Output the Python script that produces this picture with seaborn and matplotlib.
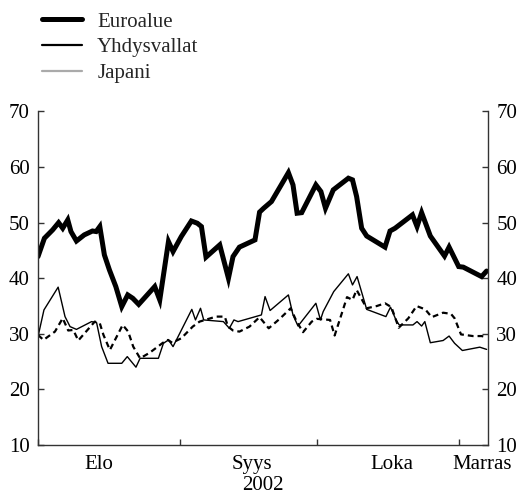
import numpy as np
import pandas as pd
import matplotlib
matplotlib.use("Agg")
import matplotlib.pyplot as plt
import seaborn as sns
from matplotlib.lines import Line2D

# ---- data (days since 1 Aug 2002, index value) ----
euro_day = [0.0, 1.4, 3.2, 4.5, 5.4, 6.5, 7.2, 8.4, 10.1, 11.9, 12.7, 13.5, 14.5, 15.6, 17.0,
            18.3, 19.6, 20.7, 22.0, 25.5, 26.6, 28.5, 29.5, 31.3, 33.5, 34.8, 35.7, 36.7, 39.7,
            41.6, 42.6, 44.0, 47.4, 48.4, 49.3, 51.0, 54.7, 55.7, 56.6, 57.6, 60.7, 61.8, 62.8,
            64.5, 67.8, 68.7, 69.6, 70.7, 71.8, 75.8, 76.9, 78.0, 81.8, 82.8, 83.8, 85.7, 88.8,
            89.8, 91.9, 92.9, 96.9, 98.0]
euro_val = [43.9, 47.2, 48.7, 50.0, 49.0, 50.5, 48.4, 46.7, 47.8, 48.5, 48.4, 49.3, 44.2, 41.5, 38.5,
            34.9, 37.0, 36.4, 35.3, 38.5, 36.1, 46.6, 44.8, 47.5, 50.3, 49.9, 49.3, 43.8, 46.0,
            40.0, 43.9, 45.6, 46.9, 51.9, 52.6, 53.8, 59.0, 56.8, 51.7, 51.8, 56.8, 55.6, 52.6,
            55.9, 58.0, 57.7, 54.7, 49.0, 47.6, 45.6, 48.5, 49.0, 51.4, 49.3, 51.8, 47.6, 44.0,
            45.6, 42.1, 42.0, 40.3, 41.3]

us_day = [0.0, 1.3, 4.4, 5.9, 7.0, 8.4, 11.7, 12.8, 13.9, 15.3, 18.3, 19.5, 21.4, 22.3, 26.3,
          27.4, 28.5, 29.5, 33.6, 34.4, 35.5, 36.2, 40.5, 41.8, 42.8, 43.7, 48.8, 49.6, 50.7,
          54.7, 55.7, 56.8, 60.7, 61.7, 62.3, 64.6, 67.8, 68.7, 69.7, 71.8, 76.0, 77.0, 78.2,
          78.9, 81.9, 82.8, 83.8, 84.5, 85.7, 88.5, 89.8, 91.0, 92.7, 96.5, 98.0]
us_val = [29.5, 34.3, 38.4, 33.1, 31.3, 30.8, 32.2, 32.0, 27.7, 24.7, 24.7, 25.9, 24.0, 25.6, 25.6,
          28.3, 28.9, 27.7, 34.4, 32.5, 34.6, 32.5, 32.2, 31.0, 32.5, 32.2, 33.4, 36.7, 34.2,
          37.0, 33.4, 31.4, 35.5, 32.5, 34.0, 37.6, 40.8, 38.8, 40.3, 34.4, 33.1, 34.8, 32.5,
          31.6, 31.6, 32.2, 31.4, 32.2, 28.4, 28.8, 29.6, 28.3, 27.0, 27.6, 27.2]

jp_day = [0.0, 1.2, 3.7, 5.4, 6.6, 7.7, 8.8, 12.4, 13.5, 14.3, 15.7, 18.5, 19.7, 20.8, 22.3,
          24.4, 27.3, 28.4, 29.3, 31.3, 33.8, 35.3, 38.9, 40.8, 41.5, 42.6, 44.0, 46.2, 48.4,
          50.4, 52.8, 55.2, 56.5, 57.9, 59.8, 60.9, 63.8, 64.8, 65.9, 67.5, 68.7, 69.6, 71.8,
          74.0, 75.8, 77.2, 78.8, 80.9, 82.7, 84.6, 86.0, 88.5, 90.2, 91.0, 92.4, 95.0, 96.9, 98.0]
jp_val = [29.8, 28.9, 30.4, 32.8, 30.6, 30.7, 28.8, 32.2, 31.9, 29.8, 27.1, 31.6, 30.4, 27.7, 25.6,
          26.6, 28.4, 28.9, 28.4, 29.2, 31.3, 32.2, 33.1, 33.1, 31.3, 30.6, 30.4, 31.3, 33.0,
          31.0, 32.7, 34.6, 32.2, 30.3, 32.2, 32.7, 32.5, 29.7, 32.5, 36.6, 36.1, 37.9, 34.6,
          35.0, 35.5, 34.8, 31.1, 32.8, 35.0, 34.4, 33.0, 33.8, 33.6, 32.8, 29.9, 29.6, 29.6, 29.4]

series_names = ["Euroalue", "Yhdysvallat", "Japani"]
month_labels = ["Elo", "Syys", "Loka", "Marras"]
year_label = "2002"
yticks = [10, 20, 30, 40, 50, 60, 70]

# ---- style ----
sns.set_theme(style="white")
plt.rcParams["font.family"] = ["Liberation Serif", "DejaVu Serif"]
FS = 15

fig = plt.figure(figsize=(5.22, 4.95), dpi=100)
ax = fig.add_axes([38 / 522, 50 / 495, 450 / 522, 333.5 / 495])

euro = pd.DataFrame({"day": euro_day, "value": euro_val})
us = pd.DataFrame({"day": us_day, "value": us_val})
jp = pd.DataFrame({"day": jp_day, "value": jp_val})

sns.lineplot(data=jp, x="day", y="value", ax=ax, color="black", lw=1.6,
             linestyle=(0, (2.6, 1.8)), sort=False, estimator=None)
sns.lineplot(data=us, x="day", y="value", ax=ax, color="black", lw=1.0,
             sort=False, estimator=None)
sns.lineplot(data=euro, x="day", y="value", ax=ax, color="black", lw=3.6,
             sort=False, estimator=None, solid_joinstyle="miter")

ax.set_xlim(0, 98.3)
ax.set_ylim(10, 70)
ax.set_yticks(yticks)
ax.set_yticklabels([str(v) for v in yticks])

# month boundary ticks (major, no labels) and month labels (minor, no marks)
ax.set_xticks([0, 31, 61, 92])
ax.set_xticklabels([])
ax.set_xticks([13.3, 46.7, 77.4, 97.0], minor=True)
ax.set_xticklabels(month_labels, minor=True)

ax.tick_params(axis="x", which="major", direction="in", length=4, width=1, color="#333333", bottom=True)
ax.tick_params(axis="x", which="minor", length=0, pad=7, labelsize=FS, labelcolor="black", bottom=True)
ax.tick_params(axis="y", which="major", direction="in", length=4, width=1, color="#333333",
               left=True, right=True, labelleft=True, labelright=True, pad=6,
               labelsize=FS, labelcolor="black")

ax.set_xlabel(year_label, fontsize=FS, labelpad=1.5, color="black")
ax.set_ylabel("")

for side in ["left", "right", "bottom"]:
    ax.spines[side].set_visible(True)
    ax.spines[side].set_color("#333333")
    ax.spines[side].set_linewidth(1.0)
ax.spines["top"].set_visible(False)
ax.grid(False)

handles = [Line2D([], [], color="black", lw=3.6),
           Line2D([], [], color="black", lw=1.6),
           Line2D([], [], color="#aaaaaa", lw=1.6)]
fig.legend(handles, series_names, loc="upper left", bbox_to_anchor=(42 / 522, 1 - 12 / 495),
           frameon=False, fontsize=FS, handlelength=1.9, handletextpad=0.75,
           labelspacing=0.3, borderpad=0, borderaxespad=0)

fig.savefig("out.png", dpi=100)
